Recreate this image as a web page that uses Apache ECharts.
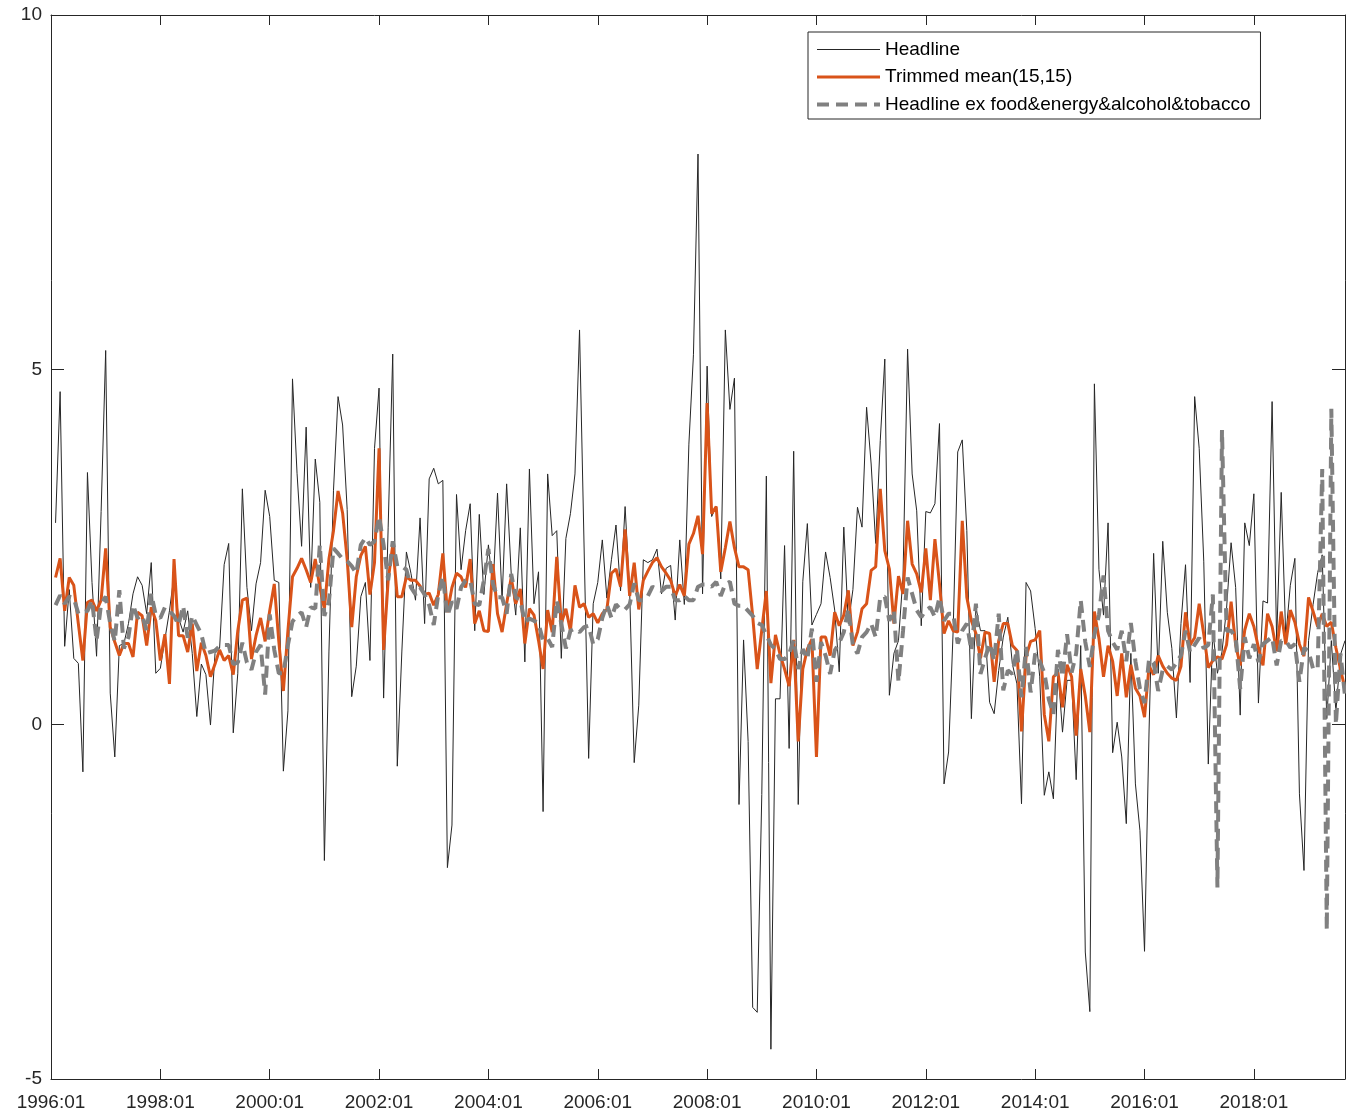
<!DOCTYPE html>
<html>
<head>
<meta charset="utf-8">
<script src="https://cdn.jsdelivr.net/npm/echarts@6/dist/echarts.min.js"></script>
<style>
  html, body { margin: 0; padding: 0; background: #ffffff; }
  #main { width: 1346px; height: 1115px; }
</style>
</head>
<body>
<div id="main"></div>
<script>
// monthly categories 1996:01 .. 2019:09
var months = [];
for (var y = 1996; y <= 2019; y++) {
  for (var m = 1; m <= 12; m++) {
    if (y === 2019 && m > 9) break;
    months.push(y + ":" + (m < 10 ? "0" + m : m));
  }
}

// values start at 1996:02
var headline = [
  2.84, 4.69, 1.10, 1.9, 0.93, 0.86, -0.67, 3.55, 2.0, 0.96, 3.0, 5.27,
  0.44, -0.46, 1.11, 1.14, 1.42, 1.84, 2.08, 1.96, 1.56, 2.28, 0.72, 0.79,
  1.2, 1.6, 2.1, 1.5, 1.3, 1.6, 1.0, 0.11, 0.85, 0.70, -0.01, 1.0,
  1.07, 2.25, 2.55, -0.12, 0.72, 3.32, 1.93, 1.32, 1.98, 2.28, 3.3, 2.93,
  2.03, 2.0, -0.66, 0.19, 4.87, 3.54, 2.51, 4.19, 1.93, 3.74, 3.13, -1.92,
  1.02, 3.3, 4.62, 4.22, 3.03, 0.39, 0.82, 1.8, 2.0, 0.9, 3.89, 4.74,
  0.37, 2.78, 5.22, -0.59, 1.02, 2.43, 2.13, 1.75, 2.91, 1.42, 3.46, 3.61,
  3.39, 3.44, -2.02, -1.42, 3.24, 2.18, 2.73, 3.11, 1.32, 2.96, 1.83, 2.53,
  1.9, 3.26, 1.75, 3.39, 2.13, 1.54, 2.77, 0.88, 3.6, 1.7, 2.15, -1.23,
  3.53, 2.66, 2.73, 0.93, 2.62, 2.97, 3.53, 5.56, 2.5, -0.48, 1.7, 2.0,
  2.6, 1.78, 2.32, 2.81, 1.88, 3.07, 1.88, -0.54, 0.27, 2.32, 2.28, 2.32,
  2.47, 1.84, 2.2, 2.24, 1.47, 2.6, 1.69, 3.95, 5.21, 8.04, 1.84, 5.05,
  2.93, 3.07, 2.05, 5.56, 4.44, 4.88, -1.13, 1.19, -0.24, -3.99, -4.06, -0.99,
  3.5, -4.58, 0.36, 0.36, 2.52, -0.34, 3.85, -1.13, 2.01, 2.83, 1.4, 1.55,
  1.70, 2.43, 2.07, 1.61, 0.74, 2.78, 1.42, 1.9, 3.06, 2.78, 4.47, 3.67,
  2.55, 4.0, 5.15, 0.41, 1.0, 1.18, 2.09, 5.29, 3.53, 3.01, 1.39, 3.0,
  2.98, 3.11, 4.24, -0.84, -0.39, 1.32, 3.84, 4.01, 2.73, 0.08, 1.65, 1.32,
  1.32, 0.31, 0.15, 0.76, 1.23, 1.51, 0.85, 0.57, -1.12, 2.0, 1.88, 1.35,
  0.67, -1.0, -0.67, -1.05, 0.78, -0.11, 0.62, 0.62, -0.78, 1.11, -3.21, -4.05,
  4.80, 2.18, 1.54, 2.84, -0.4, 0.03, -0.46, -1.4, 1.0, -0.84, -1.5, -3.2,
  -0.08, 2.41, 0.72, 2.58, 1.58, 1.07, 0.09, 1.42, 2.25, 0.59, 4.62, 3.89,
  2.30, -0.56, 1.32, 0.72, 1.02, 1.63, 2.56, 1.93, 0.13, 2.84, 2.52, 3.25,
  0.30, 1.74, 1.71, 4.55, 1.18, 3.27, 1.23, 1.96, 2.34, -0.98, -2.06, 1.18,
  1.69, 2.14, 2.39, 0.08, 1.18, 0.18, 0.98, 1.18
];

var trimmed = [
  2.07, 2.34, 1.6, 2.07, 1.96, 1.42, 0.9, 1.72, 1.75, 1.6, 1.75, 2.48,
  1.37, 1.16, 0.97, 1.14, 1.14, 0.95, 1.58, 1.53, 1.11, 1.65, 1.46, 0.9,
  1.27, 0.57, 2.33, 1.25, 1.25, 1.02, 1.42, 0.75, 1.15, 0.97, 0.67, 0.85,
  1.05, 0.9, 0.97, 0.70, 1.32, 1.75, 1.78, 0.92, 1.25, 1.5, 1.17, 1.6,
  1.98, 1.17, 0.47, 1.32, 2.08, 2.2, 2.34, 2.18, 2.0, 2.33, 1.93, 1.63,
  2.33, 2.73, 3.29, 2.98, 2.33, 1.37, 2.08, 2.38, 2.51, 1.83, 2.28, 3.89,
  1.05, 2.03, 2.53, 1.80, 1.80, 2.08, 2.03, 2.03, 1.95, 1.83, 1.85, 1.68,
  1.83, 2.41, 1.58, 1.93, 2.13, 2.08, 1.93, 2.33, 1.42, 1.6, 1.32, 1.31,
  2.26, 1.56, 1.30, 1.70, 2.07, 1.70, 1.91, 1.14, 1.63, 1.54, 1.18, 0.78,
  1.61, 1.30, 2.36, 1.42, 1.63, 1.32, 1.96, 1.65, 1.70, 1.51, 1.56, 1.43,
  1.56, 1.62, 2.13, 2.19, 1.94, 2.75, 1.81, 2.28, 1.62, 2.03, 2.16, 2.28,
  2.35, 2.22, 2.13, 2.03, 1.81, 1.97, 1.81, 2.54, 2.69, 2.94, 2.4, 4.53,
  2.97, 3.07, 2.15, 2.49, 2.86, 2.49, 2.22, 2.22, 2.18, 1.53, 0.78, 1.33,
  1.88, 0.58, 1.26, 0.99, 0.78, 0.54, 1.19, -0.24, 0.78, 1.06, 1.2, -0.46,
  1.23, 1.23, 0.97, 1.58, 1.39, 1.54, 1.89, 1.11, 1.30, 1.63, 1.70, 2.17,
  2.22, 3.32, 2.45, 2.19, 1.42, 2.09, 1.84, 2.87, 2.26, 2.12, 1.86, 2.48,
  1.75, 2.61, 1.98, 1.28, 1.46, 1.32, 1.30, 2.87, 1.79, 1.46, 1.28, 0.93,
  1.30, 1.28, 0.6, 1.18, 1.42, 1.42, 1.11, 1.04, -0.1, 0.95, 1.17, 1.19,
  1.32, 0.14, -0.24, 0.67, 0.73, 0.24, 0.84, 0.67, -0.16, 0.78, 0.40, -0.11,
  1.59, 1.21, 0.67, 1.11, 0.89, 0.40, 1.0, 0.38, 0.84, 0.51, 0.40, 0.1,
  0.82, 0.70, 0.97, 0.82, 0.72, 0.65, 0.62, 0.82, 1.58, 1.12, 1.22, 1.70,
  1.27, 0.80, 0.90, 0.95, 0.92, 1.12, 1.73, 1.12, 0.83, 1.33, 1.56, 1.38,
  1.08, 0.83, 1.56, 1.38, 1.03, 1.59, 1.13, 1.61, 1.44, 1.13, 0.96, 1.79,
  1.59, 1.38, 1.56, 1.38, 1.44, 1.08, 0.78, 0.5
];

var exFood = [
  1.68, 1.82, 1.7, 1.8, 1.78, 1.56, 1.58, 1.6, 1.75, 1.18, 1.7, 1.8,
  1.42, 1.17, 1.89, 1.07, 1.23, 1.68, 1.5, 1.54, 1.32, 1.84, 1.54, 1.5,
  1.65, 1.6, 1.53, 1.4, 1.67, 1.22, 1.53, 1.4, 1.27, 1.0, 1.02, 1.04,
  1.1, 1.12, 1.12, 0.85, 0.87, 1.15, 0.87, 0.77, 1.02, 1.12, 0.42, 1.55,
  1.05, 0.72, 0.72, 1.12, 1.45, 1.53, 1.58, 1.37, 1.65, 1.63, 2.53, 1.53,
  1.73, 2.48, 2.41, 2.33, 2.3, 2.23, 2.13, 2.53, 2.63, 2.53, 2.58, 2.93,
  2.53, 2.03, 2.58, 2.23, 2.23, 2.18, 1.93, 1.83, 1.93, 1.83, 1.68, 1.40,
  1.83, 2.08, 1.53, 1.73, 1.63, 1.93, 2.03, 2.03, 1.70, 1.68, 2.03, 2.47,
  1.98, 1.79, 1.79, 1.56, 2.12, 1.79, 1.75, 1.44, 1.49, 1.46, 1.42, 1.18,
  1.21, 1.09, 1.75, 1.42, 1.07, 1.32, 1.35, 1.30, 1.37, 1.39, 1.13, 1.2,
  1.5, 1.69, 1.5, 1.69, 1.62, 1.62, 1.69, 1.99, 1.75, 1.75, 1.81, 1.94,
  1.91, 1.88, 1.94, 1.94, 1.75, 1.75, 1.81, 1.75, 1.75, 1.94, 1.97, 1.97,
  1.94, 2.01, 1.81, 1.98, 2.01, 1.70, 1.67, 1.67, 1.6, 1.53, 1.43, 1.40,
  1.26, 1.12, 1.06, 0.92, 0.92, 0.99, 1.19, 0.78, 1.06, 0.92, 1.35, 0.6,
  1.16, 0.97, 0.71, 1.04, 1.15, 1.30, 1.63, 1.11, 1.0, 1.23, 1.3, 1.42,
  1.23, 1.79, 1.8, 1.46, 1.61, 0.6, 1.32, 2.07, 1.84, 1.61, 1.51, 1.61,
  1.65, 1.51, 1.79, 1.46, 1.56, 1.56, 1.14, 1.32, 1.42, 1.04, 1.70, 0.71,
  0.93, 1.14, 0.9, 1.56, 0.48, 0.76, 0.71, 1.06, 0.38, 1.09, 0.45, 1.0,
  0.89, 0.73, 0.35, 0.14, 1.05, 0.67, 1.27, 0.73, 1.0, 1.75, 1.16, 0.81,
  1.27, 1.54, 2.1, 1.32, 1.16, 1.05, 1.32, 0.89, 1.43, 0.89, 0.5, 0.3,
  0.92, 0.87, 0.47, 0.77, 0.82, 0.77, 0.87, 0.97, 1.32, 1.02, 1.12, 1.22,
  1.07, 1.12, 1.83, -2.3, 4.15, 1.32, 1.32, 1.22, 0.5, 1.23, 0.93, 1.13,
  0.88, 1.13, 1.18, 1.23, 0.83, 1.18, 1.18, 1.08, 1.13, 0.6, 1.08, 1.03,
  0.78, 0.78, 3.6, -2.9, 4.45, 0.0, 1.0, 0.4
];

var names = ["Headline", "Trimmed mean(15,15)", "Headline ex food&energy&alcohol&tobacco"];

var chartDom = document.getElementById("main");
var myChart = echarts.init(chartDom, null, { renderer: "canvas" });
var option;

var axisColor = "#262626";
var font = "'Liberation Sans', Arial, Helvetica, sans-serif";

function withGap(arr) {
  return [null].concat(arr);
}

option = {
  backgroundColor: "#ffffff",
  animation: false,
  grid: { left: 51, right: 1, top: 15, bottom: 36, containLabel: false },
  legend: {
    orient: "vertical",
    left: 808,
    top: 32,
    padding: [8, 10, 5, 7],
    itemWidth: 63,
    itemHeight: 18,
    itemGap: 8.5,
    borderColor: axisColor,
    borderWidth: 1,
    backgroundColor: "#ffffff",
    selectedMode: false,
    itemStyle: { opacity: 0 },
    textStyle: { fontSize: 19, color: "#000000", fontFamily: font, lineHeight: 18 },
    data: [
      { name: names[0], lineStyle: { width: 1, color: "#262626" } },
      { name: names[1], lineStyle: { width: 3, color: "#D95319" } },
      { name: names[2], lineStyle: { width: 4, color: "#808080", type: [12, 7] } }
    ]
  },
  xAxis: [
    {
      type: "category",
      data: months,
      boundaryGap: false,
      position: "bottom",
      axisLine: { show: true, onZero: false, lineStyle: { color: axisColor, width: 1 } },
      axisTick: { show: true, inside: true, length: 10, interval: 23, lineStyle: { color: axisColor } },
      axisLabel: { interval: 23, fontSize: 19, color: axisColor, fontFamily: font, margin: 14 },
      splitLine: { show: false }
    },
    {
      type: "category",
      data: months,
      boundaryGap: false,
      position: "top",
      axisLine: { show: true, onZero: false, lineStyle: { color: axisColor, width: 1 } },
      axisTick: { show: true, inside: true, length: 10, interval: 23, lineStyle: { color: axisColor } },
      axisLabel: { show: false },
      splitLine: { show: false }
    }
  ],
  yAxis: [
    {
      type: "value",
      min: -5,
      max: 10,
      interval: 5,
      position: "left",
      axisLine: { show: true, onZero: false, lineStyle: { color: axisColor, width: 1 } },
      axisTick: { show: true, inside: true, length: 13, lineStyle: { color: axisColor } },
      axisLabel: { fontSize: 19, color: axisColor, fontFamily: font, margin: 9 },
      splitLine: { show: false }
    },
    {
      type: "value",
      min: -5,
      max: 10,
      interval: 5,
      position: "right",
      axisLine: { show: true, onZero: false, lineStyle: { color: axisColor, width: 1 } },
      axisTick: { show: true, inside: true, length: 13, lineStyle: { color: axisColor } },
      axisLabel: { show: false },
      splitLine: { show: false }
    }
  ],
  series: [
    {
      name: names[0],
      type: "line",
      data: withGap(headline),
      symbol: "none",
      color: "#262626",
      lineStyle: { color: "#262626", width: 1 }
    },
    {
      name: names[1],
      type: "line",
      data: withGap(trimmed),
      symbol: "none",
      color: "#D95319",
      lineStyle: { color: "#D95319", width: 3 }
    },
    {
      name: names[2],
      type: "line",
      data: withGap(exFood),
      symbol: "none",
      color: "#808080",
      lineStyle: { color: "#808080", width: 4, type: [12, 7] }
    }
  ]
};

option && myChart.setOption(option);
</script>
</body>
</html>
